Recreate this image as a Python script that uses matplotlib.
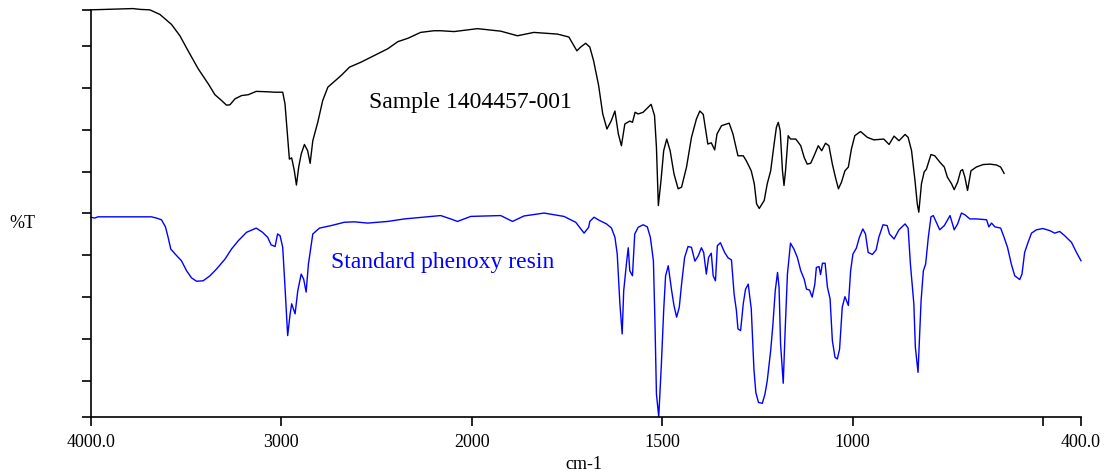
import numpy as np
import matplotlib
matplotlib.use("Agg")
import matplotlib.pyplot as plt

# ---- data (wavenumber cm-1, %T arbitrary units) ----
sample_wn = [4000, 3840, 3780, 3740, 3691, 3638, 3577, 3533, 3490, 3437, 3384, 3349, 3314, 3288, 3270,
             3244, 3209, 3174, 3132, 3072, 3037, 2993, 2981, 2970, 2958, 2946, 2932, 2921, 2909, 2896,
             2879, 2862, 2849, 2835, 2809, 2783, 2756, 2721, 2686, 2642, 2581, 2511, 2441, 2388, 2362,
             2335, 2269, 2199, 2163, 2093, 2075, 1985, 1933, 1924, 1880, 1837, 1775, 1745, 1724, 1714,
             1701, 1690, 1680, 1667, 1656, 1645, 1634, 1624, 1615, 1607, 1598, 1585, 1578, 1571, 1563,
             1550, 1541, 1529, 1520, 1515, 1510, 1503, 1496, 1488, 1479, 1469, 1458, 1449, 1436, 1423,
             1410, 1401, 1392, 1380, 1371, 1362, 1356, 1344, 1324, 1314, 1301, 1287, 1279, 1266, 1258,
             1252, 1245, 1232, 1224, 1215, 1206, 1200, 1195, 1190, 1184, 1180, 1176, 1169, 1163, 1149,
             1136, 1127, 1119, 1110, 1101, 1090, 1081, 1071, 1062, 1053, 1044, 1037, 1029, 1020, 1011,
             1003, 994, 979, 961, 944, 918, 904, 891, 878, 862, 854, 845, 836, 830, 826,
             819, 812, 806, 794, 784, 771, 759, 751, 740, 733, 724, 716, 711, 705, 698,
             689, 675, 657, 639, 622, 611, 602]
sample_t = [97.3, 97.5, 97.6, 97.4, 97.3, 96.2, 93.8, 91.1, 87.5, 83.2, 79.6, 77.0, 75.6, 74.5, 74.6,
            76.0, 76.8, 77.0, 77.8, 77.7, 77.6, 77.6, 74.8, 68.4, 61.6, 61.9, 58.8, 55.4, 59.7, 62.8,
            65.1, 63.6, 60.6, 66.0, 70.4, 75.6, 78.8, 80.2, 81.6, 83.6, 84.8, 86.4, 88.0, 89.7, 90.1,
            90.5, 91.9, 92.3, 92.3, 92.1, 92.2, 92.8, 92.3, 92.2, 91.1, 91.9, 91.5, 90.8, 87.5, 88.4,
            89.3, 88.4, 85.1, 79.3, 72.4, 68.8, 70.7, 73.1, 67.6, 64.8, 70.0, 70.7, 70.4, 72.8, 72.4,
            72.8, 73.6, 74.7, 72.0, 64.4, 50.5, 56.5, 63.6, 66.4, 63.6, 58.1, 54.5, 54.9, 59.7, 66.8,
            71.2, 73.1, 72.3, 65.2, 65.5, 63.8, 67.6, 69.6, 70.2, 67.6, 62.4, 62.4, 61.2, 58.8, 55.7,
            50.9, 49.8, 51.7, 55.7, 58.8, 65.2, 69.2, 70.4, 68.4, 58.8, 55.3, 58.8, 67.2, 66.4, 66.4,
            64.8, 62.0, 60.4, 60.6, 62.4, 64.8, 63.6, 65.4, 64.8, 60.4, 56.9, 54.5, 56.1, 58.8, 59.7,
            64.0, 67.2, 68.2, 66.8, 66.2, 66.4, 65.1, 67.1, 66.0, 67.5, 66.8, 63.6, 56.5, 50.9, 48.9,
            55.7, 58.5, 59.2, 62.7, 62.4, 60.9, 59.7, 57.3, 55.7, 54.3, 56.1, 58.8, 59.1, 57.3, 54.1,
            58.8, 59.7, 60.3, 60.4, 60.2, 59.7, 58.2]

standard_wn = [4000, 3981, 3963, 3840, 3683, 3656, 3630, 3609, 3595, 3581, 3556, 3525, 3498, 3472, 3446,
               3411, 3375, 3341, 3296, 3262, 3226, 3183, 3132, 3099, 3072, 3054, 3033, 3020, 3007, 2993,
               2981, 2967, 2954, 2946, 2928, 2914, 2896, 2883, 2870, 2858, 2835, 2800, 2739, 2669, 2616,
               2546, 2441, 2353, 2258, 2163, 2111, 2075, 2005, 1924, 1893, 1863, 1810, 1758, 1727, 1705,
               1693, 1690, 1679, 1664, 1646, 1633, 1624, 1618, 1611, 1605, 1601, 1593, 1589, 1585, 1578,
               1572, 1563, 1550, 1539, 1531, 1523, 1519, 1515, 1509, 1502, 1496, 1491, 1484, 1475, 1469,
               1462, 1455, 1449, 1441, 1432, 1423, 1414, 1405, 1397, 1391, 1384, 1378, 1371, 1366, 1360,
               1355, 1347, 1336, 1327, 1318, 1311, 1305, 1301, 1294, 1287, 1281, 1274, 1266, 1259, 1254,
               1247, 1237, 1230, 1224, 1215, 1209, 1203, 1197, 1193, 1189, 1182, 1177, 1171, 1163, 1154,
               1145, 1136, 1127, 1121, 1113, 1106, 1099, 1095, 1088, 1084, 1079, 1072, 1066, 1059, 1053,
               1046, 1040, 1034, 1027, 1020, 1011, 1005, 999, 990, 982, 973, 966, 959, 948, 938,
               931, 920, 909, 903, 891, 878, 862, 854, 848, 839, 835, 828, 820, 814, 808,
               801, 794, 788, 780, 771, 759, 744, 733, 724, 714, 705, 692, 675, 648, 642,
               635, 626, 611, 602, 593, 583, 574, 561, 555, 548, 539, 530, 517, 500, 482,
               469, 456, 443, 425, 412, 400]
standard_t = [47.7, 47.5, 47.8, 47.8, 47.8, 47.5, 47.1, 45.4, 42.9, 40.1, 38.8, 37.3, 34.9, 33.2, 32.4,
              32.5, 33.7, 35.3, 37.7, 40.1, 42.1, 44.1, 45.1, 44.1, 42.9, 41.1, 40.7, 43.7, 43.3, 40.5,
              31.0, 19.4, 24.6, 27.0, 24.6, 30.1, 34.1, 32.9, 29.8, 36.5, 43.7, 45.1, 45.7, 46.5, 46.6,
              46.3, 46.7, 47.3, 47.7, 48.1, 47.3, 46.7, 47.9, 48.1, 46.7, 48.0, 48.7, 47.9, 46.5, 43.9,
              45.3, 46.7, 47.7, 46.9, 46.1, 45.1, 42.9, 38.9, 27.0, 19.8, 30.1, 37.3, 40.4, 34.9, 33.7,
              43.7, 45.3, 45.9, 45.4, 42.9, 37.3, 23.0, 5.4, 0.0, 12.6, 25.4, 33.7, 36.1, 30.1, 26.6,
              23.8, 26.2, 31.7, 38.1, 40.7, 40.5, 37.2, 38.5, 40.4, 39.3, 34.1, 38.1, 39.1, 33.7, 32.5,
              40.9, 41.6, 39.3, 38.0, 37.5, 29.3, 25.4, 21.0, 20.6, 27.0, 30.5, 31.7, 25.8, 11.4, 5.8,
              3.4, 3.2, 5.4, 8.6, 15.8, 22.2, 30.1, 34.5, 31.0, 17.4, 8.0, 20.6, 34.1, 41.5, 40.1,
              38.1, 34.9, 32.9, 30.5, 30.3, 28.6, 31.7, 35.7, 35.9, 34.0, 36.7, 36.7, 31.0, 28.2, 18.2,
              14.2, 13.8, 16.2, 26.2, 28.7, 26.6, 34.9, 38.9, 40.3, 42.9, 44.9, 43.7, 39.3, 38.8, 39.9,
              42.9, 45.9, 45.7, 43.7, 42.5, 44.7, 46.1, 45.1, 36.5, 27.0, 16.6, 10.6, 27.7, 34.9, 36.5,
              42.9, 47.8, 48.1, 46.5, 44.7, 45.7, 48.1, 44.7, 46.1, 48.7, 48.3, 47.3, 47.3, 47.1, 45.4,
              46.3, 45.4, 45.1, 42.9, 40.5, 36.5, 33.7, 32.8, 34.1, 39.3, 41.7, 43.9, 44.7, 45.0, 44.5,
              43.9, 44.3, 43.3, 41.7, 39.3, 37.3]

x_ticks = [4000, 3000, 2000, 1500, 1000, 500, 400]
x_ticklabels = ["4000.0", "3000", "2000", "1500", "1000", "", "400.0"]
sample_label = "Sample 1404457-001"
standard_label = "Standard phenoxy resin"

# ---- figure ----
plt.rcParams["font.family"] = ["Liberation Serif", "DejaVu Serif"]

fig = plt.figure(figsize=(11.08, 4.77), dpi=100)
ax = fig.add_axes([91 / 1108, 1 - 417.7 / 477, 990 / 1108, (417.7 - 11) / 477])


def fwd(w):
    w = np.asarray(w, dtype=float)
    return np.where(w > 2000, 2000 + (w - 2000) / 2.0, w)


def inv(t):
    t = np.asarray(t, dtype=float)
    return np.where(t > 2000, 2000 + (t - 2000) * 2.0, t)


ax.set_xscale("function", functions=(fwd, inv))
ax.plot(sample_wn, sample_t, color="black", lw=1.0, clip_on=False)
ax.plot(standard_wn, standard_t, color="#0000ff", lw=1.0, clip_on=False)

ax.set_xlim(4000, 400)
ax.set_ylim(0, 97.26)

ax.set_xticks(x_ticks)
ax.set_xticklabels(x_ticklabels)
ax.set_yticks([0] + [8.61 + 10 * i for i in range(9)] + [97.26])
ax.set_yticklabels([])
ax.xaxis.set_minor_locator(matplotlib.ticker.NullLocator())

for s in ["top", "right"]:
    ax.spines[s].set_visible(False)
for s in ["left", "bottom"]:
    ax.spines[s].set_linewidth(1.2)
ax.tick_params(axis="both", direction="out", length=6.5, width=1.2, labelsize=13, pad=5)

ax.text(2542, 75.3, sample_label, color="black", fontsize=17, ha="left", va="center")
ax.text(2737, 37.2, standard_label, color="#0000ff", fontsize=17, ha="left", va="center")

fig.text(22 / 1108, 1 - 224 / 477, "%T", fontsize=13, ha="center", va="center")
fig.text(584 / 1108, 1 - 465 / 477, "cm-1", fontsize=13, ha="center", va="center")

fig.savefig("out.png", dpi=100)
